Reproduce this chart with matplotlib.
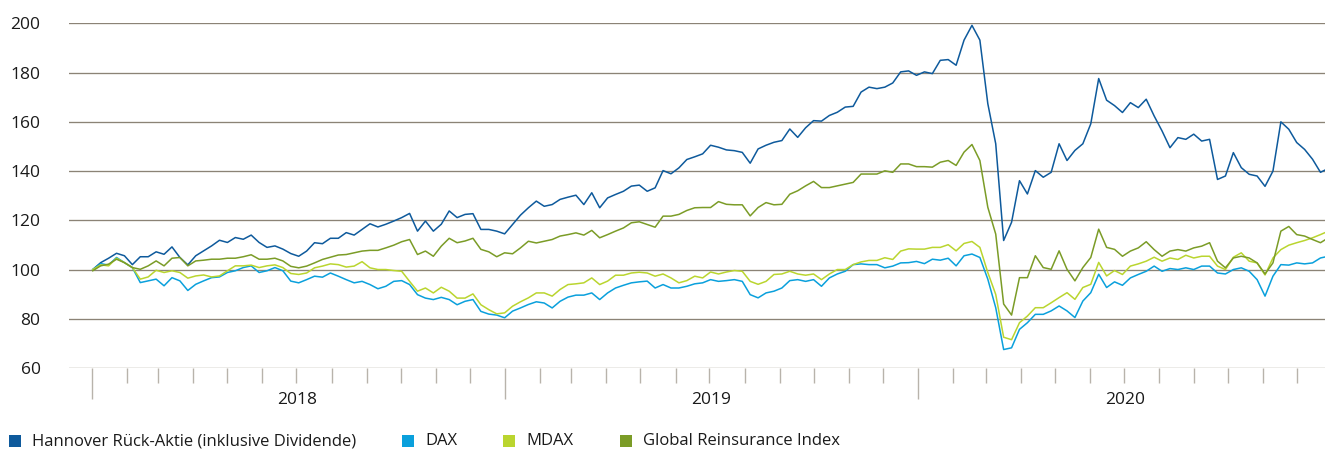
import matplotlib
matplotlib.use("Agg")
import matplotlib.pyplot as plt
import matplotlib.dates as mdates
import matplotlib.transforms as mtransforms
from matplotlib.patches import Rectangle
import pandas as pd

plt.rcParams['font.family'] = ['Open Sans', 'DejaVu Sans']

# weekly observations starting 2018-01-02
dates = pd.date_range("2018-01-02", periods=157, freq="7D")

hannover = [
    100, 102.8, 104.6, 106.6, 105.6, 102, 105.2, 105.2, 107.2, 106.2,
    109.2, 104.9, 101.9, 105.6, 107.6, 109.6, 111.9, 111, 113, 112.3,
    114, 111, 109, 109.6, 108.3, 106.5, 105.4, 107.5, 110.9, 110.5,
    112.7, 112.7, 115, 114, 116.3, 118.6, 117.3, 118.4, 119.7, 121.1,
    122.8, 115.6, 119.7, 115.6, 118.4, 123.8, 121.1, 122.4, 122.7, 116.3,
    116.3, 115.6, 114.5, 118.3, 122.1, 125.1, 127.8, 125.7, 126.4, 128.5,
    129.4, 130.2, 126.4, 131.2, 125.1, 129.1, 130.5, 131.8, 133.9, 134.3,
    131.8, 133.2, 140.2, 138.9, 141.3, 144.7, 145.8, 147, 150.5, 149.7,
    148.6, 148.3, 147.6, 143.2, 149, 150.5, 151.7, 152.4, 157.1, 153.7,
    157.6, 160.5, 160.3, 162.6, 163.9, 166, 166.3, 172.1, 174.1, 173.5,
    174.1, 175.8, 180.3, 180.7, 178.9, 180.3, 179.6, 185, 185.3, 183,
    193.2, 199.2, 193.2, 167.4, 151.1, 111.8, 119.2, 136.1, 130.7, 140.2,
    137.5, 139.5, 151.1, 144.3, 148.4, 151.1, 159.2, 177.6, 168.8, 166.6,
    163.8, 167.8, 165.8, 169.2, 162.4, 156.3, 149.5, 153.6, 152.9, 155,
    152.2, 152.9, 136.6, 138, 147.5, 141.4, 138.7, 138, 133.8, 140,
    160, 157, 151.6, 148.8, 144.8, 139.5, 141.1,
]

dax = [
    100, 102.4, 101.8, 104.9, 102.8, 100.8, 94.7, 95.4, 96.1, 93.4,
    96.7, 95.4, 91.5, 94, 95.4, 96.7, 97, 98.8, 99.5, 100.8,
    101.5, 98.8, 99.5, 100.8, 99.5, 95.3, 94.6, 95.9, 97.3, 96.9,
    98.6, 97.3, 95.9, 94.6, 95.2, 93.9, 92.2, 93.2, 95.2, 95.5,
    93.9, 89.8, 88.4, 87.8, 88.7, 87.8, 85.7, 87.1, 87.8, 83,
    81.9, 81.5, 80.4, 83.1, 84.4, 85.8, 86.9, 86.4, 84.4, 87.1,
    88.8, 89.6, 89.6, 90.5, 87.8, 90.5, 92.5, 93.6, 94.6, 95,
    95.3, 92.5, 93.9, 92.5, 92.5, 93.2, 94.2, 94.6, 95.9, 95.2,
    95.5, 95.9, 95.2, 89.8, 88.5, 90.5, 91.2, 92.5, 95.5, 95.9,
    95.2, 95.9, 93.2, 96.6, 98.2, 99.3, 102, 102.3, 102, 102,
    100.7, 101.4, 102.7, 102.8, 103.3, 102.4, 104.2, 103.8, 104.6, 101.5,
    105.6, 106.3, 104.9, 96.1, 84.5, 67.5, 68.2, 75.7, 78.4, 81.8,
    81.8, 83.2, 85.2, 83.2, 80.5, 87.2, 90.6, 98.1, 92.7, 95,
    93.6, 96.6, 98, 99.3, 101.4, 99.3, 100.4, 100, 100.7, 100,
    101.4, 101.4, 98.6, 98.2, 100, 100.7, 99.3, 95.9, 89.2, 97.3,
    102, 101.8, 102.7, 102.3, 102.7, 104.7, 105.4,
]

mdax = [
    100, 101.9, 101.5, 104.6, 102.8, 100.8, 96.1, 97, 99.7, 98.8,
    99.5, 98.8, 96.5, 97.4, 97.8, 97, 97.4, 99.5, 101.5, 101.5,
    101.8, 100.8, 101.5, 101.9, 100.8, 98.4, 98, 98.6, 100.7, 101.4,
    102.3, 102, 101, 101.4, 103.2, 100.7, 100, 100, 99.6, 99.3,
    95.2, 91.2, 92.5, 90.5, 92.8, 91.2, 88.4, 88.4, 90.1, 85.7,
    83.7, 82, 82.4, 85.1, 86.9, 88.5, 90.5, 90.5, 89.2, 91.9,
    93.9, 94.2, 94.6, 96.6, 93.9, 95.3, 97.7, 97.7, 98.6, 98.9,
    98.6, 97.3, 98.2, 96.6, 94.6, 95.5, 97.3, 96.6, 99, 98.2,
    99, 99.6, 99.3, 95.2, 94.0, 95.2, 98, 98.2, 99.3, 98.2,
    97.7, 98.2, 95.9, 98.2, 100, 100, 102, 103.1, 103.7, 103.7,
    104.8, 104.1, 107.5, 108.4, 108.3, 108.3, 109, 109, 110.1, 107.6,
    110.6, 111.4, 109, 98.8, 89.9, 72.5, 71.5, 78.4, 81.1, 84.5,
    84.5, 86.5, 88.6, 90.6, 87.9, 92.7, 94, 102.9, 97.4, 99.6,
    98, 101.4, 102.3, 103.4, 105, 103.4, 104.7, 104.1, 105.8, 104.7,
    105.4, 105.4, 101.4, 100, 105, 106.8, 103.4, 102.7, 97.8, 104.7,
    108.1, 109.9, 110.9, 111.8, 112.9, 114.2, 115.6,
]

global_reins = [
    99.5, 101.5, 102.2, 104.2, 102.8, 100.8, 100.1, 101.5, 103.5, 101.5,
    104.6, 104.9, 101.5, 103.5, 103.8, 104.2, 104.2, 104.6, 104.6, 105.2,
    106, 104.2, 104.2, 104.6, 103.5, 101.3, 100.7, 101.4, 102.7, 104.1,
    105, 105.9, 106.1, 106.8, 107.5, 107.8, 107.8, 108.8, 109.9, 111.3,
    112.2, 106.1, 107.5, 105.4, 109.5, 112.7, 110.9, 111.6, 112.7, 108.2,
    107.2, 105.2, 106.8, 106.4, 108.8, 111.5, 110.8, 111.5, 112.2, 113.6,
    114.2, 114.9, 114, 115.9, 112.9, 114.2, 115.6, 116.9, 119, 119.4,
    118.3, 117.2, 121.7, 121.7, 122.4, 124, 125.1, 125.2, 125.2, 127.6,
    126.5, 126.3, 126.3, 121.8, 125.2, 127.2, 126.3, 126.5, 130.6, 132,
    134, 135.8, 133.3, 133.3, 134, 134.7, 135.4, 138.8, 138.8, 138.8,
    140.1, 139.5, 142.9, 142.9, 141.8, 141.8, 141.6, 143.6, 144.3, 142.3,
    147.7, 150.8, 144.3, 125.3, 114.4, 86, 81.5, 96.7, 96.7, 105.6,
    100.8, 100.1, 107.6, 100.1, 95.4, 100.8, 104.9, 116.4, 109, 108.2,
    105.4, 107.5, 108.8, 111.3, 108.1, 105.4, 107.5, 108.1, 107.5, 108.8,
    109.5, 110.9, 103.4, 100.7, 104.7, 105.4, 104.7, 102.7, 98.2, 102.7,
    115.6, 117.5, 114.2, 113.6, 112.2, 110.9, 112.9,
]

series_names = ["Hannover Rück-Aktie (inklusive Dividende)", "DAX", "MDAX",
                "Global Reinsurance Index"]
series_colors = ["#0e5a9c", "#0aa0dc", "#bad52f", "#7b9c27"]
year_labels = ["2018", "2019", "2020"]
y_ticks = [60, 80, 100, 120, 140, 160, 180, 200]

W, H = 1325, 451
fig = plt.figure(figsize=(W / 100, H / 100), dpi=100)
ax = fig.add_axes([69 / W, 1 - 368 / H, (W - 69) / W, (368 - 23.4) / H])

grid_color = "#8b8376"
tick_color = "#b8b3ab"
text_color = "#1a1a1a"

for yv in y_ticks:
    ax.axhline(yv, color=grid_color, lw=0.95, zorder=1)

for vals, col in zip([hannover, dax, mdax, global_reins], series_colors):
    ax.plot(dates, vals, color=col, lw=1.1, zorder=3)

ax.set_ylim(60, 200)
ax.set_xlim(pd.Timestamp("2017-12-12"), pd.Timestamp("2020-12-26"))
ax.set_yticks(y_ticks)
ax.set_yticklabels([])
ax.tick_params(axis="y", length=0)

# y labels, right-aligned at a fixed pixel column
ytrans = mtransforms.blended_transform_factory(fig.transFigure, ax.transData)
for yv in y_ticks:
    ax.text(40.5 / W, yv, str(yv), transform=ytrans, ha="right",
            va="center_baseline", fontsize=12.5, color=text_color)

ax.xaxis.set_major_locator(mdates.YearLocator())
ax.xaxis.set_minor_locator(mdates.MonthLocator())
ax.xaxis.set_major_formatter(plt.NullFormatter())
ax.tick_params(axis="x", which="major", length=22, width=1.0, color=tick_color)
ax.tick_params(axis="x", which="minor", length=11, width=1.0, color=tick_color)

for s in ax.spines.values():
    s.set_visible(False)

trans = mtransforms.blended_transform_factory(ax.transData, fig.transFigure)
for lab in year_labels:
    ax.text(pd.Timestamp(f"{lab}-07-02"), 1 - 400 / H, lab, transform=trans,
            ha="center", va="center", fontsize=12.5, color=text_color)

# legend
legend_x = [9, 402, 503, 620]
for x0, name, col in zip(legend_x, series_names, series_colors):
    fig.patches.append(Rectangle((x0 / W, 1 - 447 / H), 12 / W, 12 / H,
                                 transform=fig.transFigure, color=col, lw=0))
    fig.text((x0 + 23) / W, 1 - 441 / H, name, ha="left", va="center",
             fontsize=12, color=text_color)

fig.savefig("out.png", dpi=100)
